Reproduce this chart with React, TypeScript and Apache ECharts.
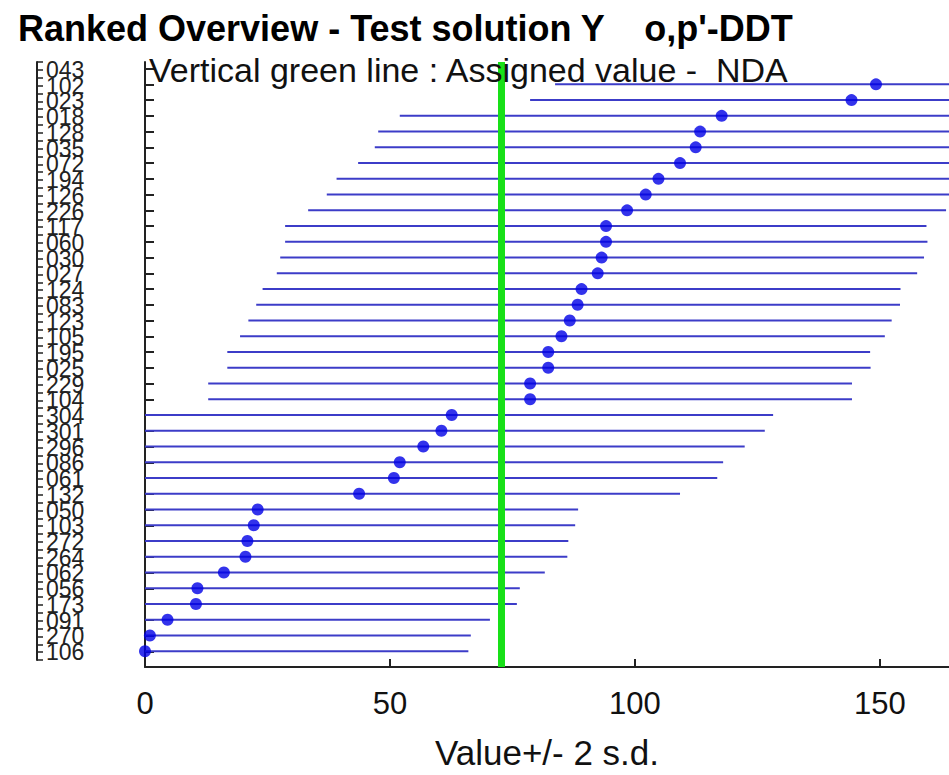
import React, { useEffect, useRef } from "react";
import * as echarts from "echarts";

const labels = [
  "043", "102", "023", "018", "128", "035", "072", "194", "126", "226",
  "117", "060", "030", "027", "124", "083", "123", "105", "195", "025",
  "229", "104", "304", "301", "296", "086", "061", "132", "050", "103",
  "272", "264", "062", "056", "173", "091", "270", "106",
];

const values: (number | null)[] = [
  null, 149.2, 144.2, 117.7, 113.3, 112.4, 109.2, 104.8, 102.2, 98.4,
  94.1, 94.1, 93.2, 92.4, 89.1, 88.3, 86.7, 85.0, 82.3, 82.3,
  78.6, 78.6, 62.6, 60.5, 56.8, 52.0, 50.8, 43.7, 23.0, 22.2,
  20.9, 20.5, 16.1, 10.7, 10.4, 4.6, 1.0, 0.0,
];

const lows: (number | null)[] = [
  null, 83.7, 78.6, 52.0, 47.6, 46.9, 43.5, 39.1, 37.1, 33.3,
  28.6, 28.6, 27.6, 26.9, 24.0, 22.7, 21.1, 19.4, 16.8, 16.8,
  12.9, 12.9, -3.0, -5.1, -8.8, -13.6, -14.8, -21.9, -42.6, -43.4,
  -44.7, -45.1, -49.5, -54.9, -55.2, -61.0, -64.6, -66.0,
];

const highs: (number | null)[] = [
  null, 214.9, 209.8, 183.4, 178.9, 177.9, 174.9, 170.5, 167.3, 163.5,
  159.5, 159.7, 159.0, 157.6, 154.2, 154.1, 152.4, 151.0, 148.0, 148.1,
  144.3, 144.3, 128.2, 126.5, 122.4, 118.0, 116.8, 109.2, 88.4, 87.8,
  86.4, 86.2, 81.6, 76.5, 75.9, 70.4, 66.5, 66.0,
];

const assignedValue = 72.8;
const xTicks = [0, 50, 100, 150];

const FONT = '"Liberation Sans", Arial, Helvetica, sans-serif';

export default function App() {
  const ref = useRef<HTMLDivElement>(null);

  useEffect(() => {
    if (!ref.current) return;
    const chart = echarts.init(ref.current, null, { renderer: "svg" });

    const xMax = 164.1;
    const rowIdx = labels.map((_, i) => i);

    const lineData: number[][] = [];
    const dotData: number[][] = [];
    labels.forEach((_, i) => {
      const lo = lows[i];
      const hi = highs[i];
      const v = values[i];
      if (lo != null && hi != null) lineData.push([lo, hi, i]);
      if (v != null) dotData.push([v, i]);
    });

    const option: any = {
      animation: false,
      backgroundColor: "#ffffff",
      textStyle: { fontFamily: FONT },
      grid: [
        { left: 145, top: 62, right: 0, bottom: 108, containLabel: false },
        { left: 37, top: 62, width: 10, height: 598, containLabel: false },
      ],
      xAxis: [
        {
          gridIndex: 0,
          type: "value",
          position: "bottom",
          min: 0,
          max: xMax,
          interval: 50,
          name: "Value+/- 2 s.d.",
          nameLocation: "middle",
          nameGap: 68,
          nameTextStyle: { fontSize: 35, color: "#111", fontFamily: FONT },
          axisLine: { show: true, onZero: false, lineStyle: { color: "#222", width: 2 } },
          axisTick: { show: true, inside: true, length: 8, lineStyle: { color: "#222", width: 2 }, customValues: xTicks },
          axisLabel: {
            show: true,
            fontSize: 31,
            color: "#111",
            margin: 21,
            fontFamily: FONT,
            customValues: xTicks,
            showMinLabel: true,
            showMaxLabel: true,
          },
          splitLine: { show: false },
        },
        {
          gridIndex: 1,
          type: "value",
          show: false,
          min: 0,
          max: 1,
        },
      ],
      yAxis: [
        {
          gridIndex: 0,
          type: "value",
          position: "left",
          inverse: true,
          min: -0.42,
          max: 38,
          axisLine: { show: true, onZero: false, lineStyle: { color: "#222", width: 2 } },
          axisTick: {
            show: true,
            inside: true,
            length: 9,
            lineStyle: { color: "#222", width: 2 },
            customValues: rowIdx,
          },
          axisLabel: { show: false },
          splitLine: { show: false },
        },
        {
          gridIndex: 1,
          type: "category",
          data: labels,
          inverse: true,
          boundaryGap: true,
          position: "left",
          offset: 0,
          axisLine: { show: true, onZero: false, lineStyle: { color: "#222", width: 2 } },
          axisTick: {
            show: true,
            inside: true,
            interval: 0,
            length: 6,
            lineStyle: { color: "#222", width: 1.5 },
          },
          axisLabel: {
            show: true,
            inside: true,
            interval: 0,
            margin: 9,
            fontSize: 23,
            color: "#222",
            fontFamily: FONT,
          },
          splitLine: { show: false },
        },
        {
          gridIndex: 1,
          type: "category",
          data: labels,
          inverse: true,
          boundaryGap: true,
          position: "left",
          offset: 0,
          axisLine: { show: false },
          axisTick: {
            show: true,
            inside: true,
            interval: 0,
            alignWithLabel: true,
            length: 6,
            lineStyle: { color: "#222", width: 1.5 },
          },
          axisLabel: { show: false },
          splitLine: { show: false },
        },
      ],
      series: [
        {
          type: "custom",
          xAxisIndex: 0,
          yAxisIndex: 0,
          clip: true,
          encode: { x: [0, 1], y: 2 },
          data: lineData,
          z: 2,
          renderItem: (params: any, api: any) => {
            const lo = Math.max(api.value(0), 0);
            const hi = Math.min(api.value(1), xMax);
            const y = api.value(2);
            const p1 = api.coord([lo, y]);
            const p2 = api.coord([hi, y]);
            return {
              type: "line",
              shape: { x1: p1[0], y1: p1[1], x2: p2[0], y2: p2[1] },
              style: { stroke: "#3c3cc8", lineWidth: 2 },
            };
          },
        },
        {
          type: "scatter",
          xAxisIndex: 0,
          yAxisIndex: 0,
          data: dotData,
          symbol: "circle",
          symbolSize: 12,
          itemStyle: { color: "#0000e6" },
          z: 4,
          markLine: {
            silent: true,
            symbol: ["none", "none"],
            label: { show: false },
            lineStyle: { color: "#18e018", width: 7, type: "solid", opacity: 1 },
            data: [{ xAxis: assignedValue }],
            z: 3,
          },
        },
      ],
      graphic: [
        {
          type: "text",
          left: 18,
          top: 10,
          z: 10,
          style: {
            text: "Ranked Overview - Test solution Y    o,p'-DDT",
            font: `bold 36px ${FONT}`,
            fill: "#000",
          },
        },
        {
          type: "text",
          left: 149,
          top: 53,
          z: 10,
          style: {
            text: "Vertical green line : Assigned value -  NDA",
            font: `34px ${FONT}`,
            fill: "#111",
          },
        },
      ],
    };

    chart.setOption(option);
    return () => chart.dispose();
  }, []);

  return (
    <div
      ref={ref}
      style={{ position: "fixed", left: 0, top: 0, width: 949, height: 775, background: "#fff" }}
    />
  );
}
